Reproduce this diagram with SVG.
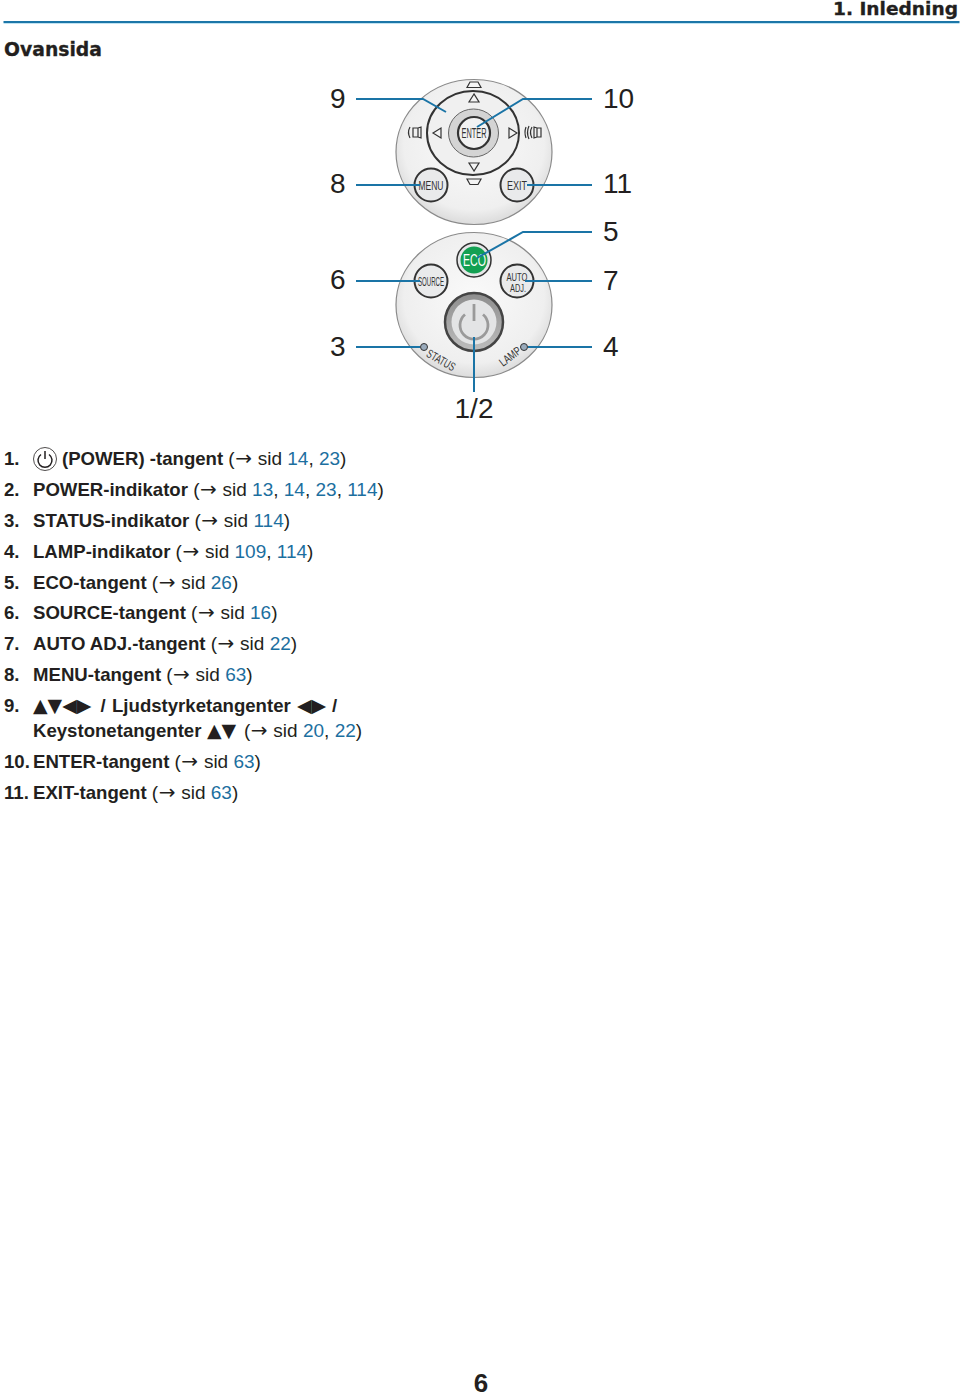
<svg xmlns="http://www.w3.org/2000/svg" width="960" height="1395" viewBox="0 0 960 1395">
<style>
text{font-family:"Liberation Sans",Arial,sans-serif;fill:#231f20}
.n{font-size:28px}
.l{font-size:18.6px}
.b{font-weight:bold}
.r{font-weight:normal;font-size:19px}
.c{fill:#1c6f9f}
.a{font-family:"DejaVu Sans",sans-serif;font-weight:normal;font-size:20px}
.t{font-family:"DejaVu Sans",sans-serif;font-weight:normal;font-size:19px}
.k{font-size:13px;fill:#333}
.w{fill:#e9eaeb;stroke:#333;stroke-width:2}
.lead{fill:none;stroke:#1a74a6;stroke-width:2}
.tri{fill:#f4f4f4;stroke:#333;stroke-width:1.2}
.wide{font-family:"DejaVu Sans",sans-serif;font-weight:bold;stroke:#231f20;stroke-width:0.3}
</style>
<defs>
<radialGradient id="panel" cx="0.5" cy="0.45" r="0.6"><stop offset="0" stop-color="#fafafa"/><stop offset="0.75" stop-color="#efefef"/><stop offset="1" stop-color="#d2d2d2"/></radialGradient>
<linearGradient id="ring" x1="0" y1="0" x2="0" y2="1"><stop offset="0" stop-color="#8d8d8d"/><stop offset="1" stop-color="#bdbdbd"/></linearGradient>
</defs>
<rect width="960" height="1395" fill="#fff"/>
<g id="header">
<text class="wide" x="833" y="15" font-size="17.5" textLength="125" lengthAdjust="spacingAndGlyphs">1. Inledning</text>
<rect x="3.500" y="23" width="956" height="1" fill="#bfe3f2"/>
<rect x="3.500" y="21" width="956" height="2" fill="#1c76a8"/>
<text class="wide" x="4" y="56" font-size="20" textLength="98" lengthAdjust="spacingAndGlyphs">Ovansida</text>
</g>
<g id="panel-top">
<ellipse cx="474" cy="152" rx="78" ry="72.5" fill="url(#panel)" stroke="#8a8a8a" stroke-width="1.2"/>
<ellipse cx="473" cy="133" rx="46" ry="42" fill="#f0f0f0" stroke="#333" stroke-width="2"/>
</g>
<g id="node-enter">
<ellipse cx="473.500" cy="133" rx="25" ry="24" fill="#d4d4d4" stroke="#666" stroke-width="1"/>
<circle cx="474" cy="133" r="16" fill="#f2f2f2" stroke="#333" stroke-width="2.200"/>
<text class="k" x="474" y="138" text-anchor="middle" style="font-size:14px" textLength="25" lengthAdjust="spacingAndGlyphs">ENTER</text>
</g>
<g id="node-arrows">
<polygon class="tri" points="474,94 469,102 479,102"/>
<polygon class="tri" points="474,171 469,163 479,163"/>
<polygon class="tri" points="433,133 441,128 441,138"/>
<polygon class="tri" points="517,133 509,128 509,138"/>
<path class="tri" d="M470 82h8l3 5.500h-14zM467 179h14l-3 5.500h-8z"/>
<path d="M413 128h5v9h-5zM418 128l3 -1v11l-3 -1M410 127q-3 5.500 0 11" fill="none" stroke="#333" stroke-width="1.200"/>
<path d="M537 128h4v9h-4zM537 128l-3 -1v11l3 -1M532 127q-3 5.500 0 11M529 126q-3 6.500 0 13M526 127q-2 5.500 0 11" fill="none" stroke="#333" stroke-width="1.200"/>
</g>
<g id="node-menu">
<circle class="w" cx="431" cy="185" r="16.500"/>
<text class="k" x="431" y="190" text-anchor="middle" textLength="25" lengthAdjust="spacingAndGlyphs">MENU</text>
</g>
<g id="node-exit">
<circle class="w" cx="517" cy="185" r="16.500"/>
<text class="k" x="517" y="190" text-anchor="middle" textLength="20" lengthAdjust="spacingAndGlyphs">EXIT</text>
</g>
<g id="panel-bottom">
<ellipse cx="474" cy="305" rx="78" ry="72.5" fill="url(#panel)" stroke="#8a8a8a" stroke-width="1.2"/>
</g>
<g id="node-eco">
<circle cx="474" cy="260" r="17" fill="#e6e7e8" stroke="#333" stroke-width="1.500"/>
<circle cx="474" cy="260" r="13.500" fill="#13a052"/>
<text x="474.500" y="265.500" text-anchor="middle" font-size="16.500" style="fill:#fff" textLength="23" lengthAdjust="spacingAndGlyphs">ECO</text>
</g>
<g id="node-source">
<circle class="w" cx="431" cy="281" r="16.500"/>
<text class="k" x="431" y="286" text-anchor="middle" textLength="26" lengthAdjust="spacingAndGlyphs">SOURCE</text>
</g>
<g id="node-auto">
<circle class="w" cx="517" cy="281" r="16.500"/>
<text class="k" x="517" y="280.500" text-anchor="middle" style="font-size:11px" textLength="21" lengthAdjust="spacingAndGlyphs">AUTO</text>
<text class="k" x="518" y="292" text-anchor="middle" style="font-size:11px" textLength="16" lengthAdjust="spacingAndGlyphs">ADJ.</text>
</g>
<g id="node-power">
<circle cx="474" cy="322" r="29" fill="url(#ring)" stroke="#444" stroke-width="2.500"/>
<circle cx="474" cy="322" r="22.500" fill="#e3e4e5"/>
<path d="M465 314.500a14 14 0 1 0 18 0" fill="none" stroke="#9a9a9a" stroke-width="2.800"/>
<path d="M474 304v17" stroke="#9a9a9a" stroke-width="2.800"/>
</g>
<g id="node-status">
<circle cx="424" cy="347" r="3.500" fill="#9ab" stroke="#333"/>
<text class="k" transform="translate(425.500,356) rotate(30)" style="font-size:12px" textLength="31" lengthAdjust="spacingAndGlyphs">STATUS</text>
</g>
<g id="node-lamp">
<circle cx="524" cy="347" r="3.500" fill="#9ab" stroke="#333"/>
<text class="k" transform="translate(503,367) rotate(-37)" style="font-size:12px" textLength="24" lengthAdjust="spacingAndGlyphs">LAMP</text>
</g>
<g id="connectors">
<path class="lead" d="M356 99H423L446 112"/>
<path class="lead" d="M592 99H523L477 127"/>
<path class="lead" d="M356 185H420"/>
<path class="lead" d="M592 185H527"/>
<path class="lead" d="M592 232H523L477 258"/>
<path class="lead" d="M356 281H420"/>
<path class="lead" d="M592 281H525"/>
<path class="lead" d="M356 347H420"/>
<path class="lead" d="M592 347H528"/>
<path class="lead" d="M474 337V392"/>
</g>
<g id="callouts">
<text class="n" x="330" y="108">9</text>
<text class="n" x="330" y="193">8</text>
<text class="n" x="330" y="289">6</text>
<text class="n" x="330" y="356">3</text>
<text class="n" x="603" y="108">10</text>
<text class="n" x="603" y="193">11</text>
<text class="n" x="603" y="241">5</text>
<text class="n" x="603" y="290">7</text>
<text class="n" x="603" y="356">4</text>
<text class="n" x="474" y="418" text-anchor="middle">1/2</text>
</g>
<g id="legend">
<text class="l b" x="4" y="465">1.</text>
<circle cx="45" cy="459" r="11.500" fill="none" stroke="#231f20" stroke-width="0.8"/>
<path d="M41 454.500a7 7 0 1 0 8 0M45 451v8" fill="none" stroke="#231f20" stroke-width="1.500"/>
<text class="l b" x="62" y="465">(POWER) -tangent <tspan class="r">(</tspan><tspan class="a" dx="0.500">→</tspan><tspan class="r" dx="0.500"> sid </tspan><tspan class="r c">14</tspan><tspan class="r">, </tspan><tspan class="r c">23</tspan><tspan class="r">)</tspan></text>
<text class="l b" x="4" y="496">2.</text>
<text class="l b" x="33" y="496">POWER-indikator <tspan class="r">(</tspan><tspan class="a" dx="0.500">→</tspan><tspan class="r" dx="0.500"> sid </tspan><tspan class="r c">13</tspan><tspan class="r">, </tspan><tspan class="r c">14</tspan><tspan class="r">, </tspan><tspan class="r c">23</tspan><tspan class="r">, </tspan><tspan class="r c">114</tspan><tspan class="r">)</tspan></text>
<text class="l b" x="4" y="527">3.</text>
<text class="l b" x="33" y="527">STATUS-indikator <tspan class="r">(</tspan><tspan class="a" dx="0.500">→</tspan><tspan class="r" dx="0.500"> sid </tspan><tspan class="r c">114</tspan><tspan class="r">)</tspan></text>
<text class="l b" x="4" y="558">4.</text>
<text class="l b" x="33" y="558">LAMP-indikator <tspan class="r">(</tspan><tspan class="a" dx="0.500">→</tspan><tspan class="r" dx="0.500"> sid </tspan><tspan class="r c">109</tspan><tspan class="r">, </tspan><tspan class="r c">114</tspan><tspan class="r">)</tspan></text>
<text class="l b" x="4" y="589">5.</text>
<text class="l b" x="33" y="589">ECO-tangent <tspan class="r">(</tspan><tspan class="a" dx="0.500">→</tspan><tspan class="r" dx="0.500"> sid </tspan><tspan class="r c">26</tspan><tspan class="r">)</tspan></text>
<text class="l b" x="4" y="619">6.</text>
<text class="l b" x="33" y="619">SOURCE-tangent <tspan class="r">(</tspan><tspan class="a" dx="0.500">→</tspan><tspan class="r" dx="0.500"> sid </tspan><tspan class="r c">16</tspan><tspan class="r">)</tspan></text>
<text class="l b" x="4" y="650">7.</text>
<text class="l b" x="33" y="650">AUTO ADJ.-tangent <tspan class="r">(</tspan><tspan class="a" dx="0.500">→</tspan><tspan class="r" dx="0.500"> sid </tspan><tspan class="r c">22</tspan><tspan class="r">)</tspan></text>
<text class="l b" x="4" y="681">8.</text>
<text class="l b" x="33" y="681">MENU-tangent <tspan class="r">(</tspan><tspan class="a" dx="0.500">→</tspan><tspan class="r" dx="0.500"> sid </tspan><tspan class="r c">63</tspan><tspan class="r">)</tspan></text>
<text class="l b" x="4" y="712">9.</text>
<text class="l b" x="33" y="712"><tspan class="t">▲▼◀▶</tspan><tspan x="100.500">/</tspan><tspan x="112">Ljudstyrketangenter</tspan><tspan class="t" x="297">◀▶</tspan><tspan x="332">/</tspan></text>
<text class="l b" x="33" y="737">Keystonetangenter<tspan class="t" x="207">▲▼</tspan><tspan class="r" x="244">(</tspan><tspan class="a" dx="0.500">→</tspan><tspan class="r" dx="0.500"> sid </tspan><tspan class="r c">20</tspan><tspan class="r">, </tspan><tspan class="r c">22</tspan><tspan class="r">)</tspan></text>
<text class="l b" x="4" y="768">10.</text>
<text class="l b" x="33" y="768">ENTER-tangent <tspan class="r">(</tspan><tspan class="a" dx="0.500">→</tspan><tspan class="r" dx="0.500"> sid </tspan><tspan class="r c">63</tspan><tspan class="r">)</tspan></text>
<text class="l b" x="4" y="799">11.</text>
<text class="l b" x="33" y="799">EXIT-tangent <tspan class="r">(</tspan><tspan class="a" dx="0.500">→</tspan><tspan class="r" dx="0.500"> sid </tspan><tspan class="r c">63</tspan><tspan class="r">)</tspan></text>
</g>
<g id="footer">
<text class="b" x="481" y="1392" text-anchor="middle" font-size="26">6</text>
</g>
</svg>
